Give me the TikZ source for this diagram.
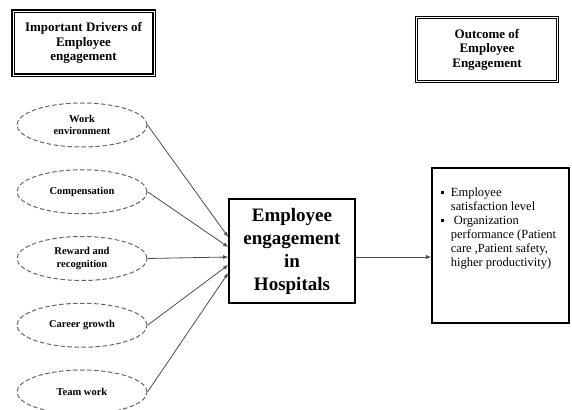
\documentclass[tikz,border=0pt]{standalone}
\usepackage{fontspec}
\setmainfont{Liberation Serif}
\usetikzlibrary{positioning, arrows.meta, shapes.geometric}

\begin{document}
\begin{tikzpicture}[
    x=1pt, y=1pt,
    title_box/.style={draw, line width=1.2pt, double, double distance=0.7pt, minimum width=141pt, minimum height=64pt, align=center, font=\fontsize{13}{14.5}\selectfont\bfseries},
    driver_node/.style={ellipse, draw=black!60, dash pattern=on 4.5pt off 2.5pt, line width=1pt, minimum width=130pt, minimum height=44pt, inner sep=0pt, align=center, font=\fontsize{10.5}{12.5}\selectfont\bfseries},
    main_box/.style={draw, line width=1.6pt, align=center},
    edge_path/.style={-{Latex[length=5pt, width=4pt]}, draw=black!70, line width=0.8pt},
    node distance=21.75pt
  ]
    \useasboundingbox (0,0) rectangle (572,409);

    % headings
    \node[title_box] (Drivers) at (83.5,366) {Important Drivers of\\Employee\\engagement};
    \node[title_box] (Outcome) at (487,359.5) {Outcome of\\Employee\\Engagement};

    % drivers column
    \node[driver_node] (Work) at (82,284) {Work\\environment};
    \node[driver_node, below=of Work] (Comp) {Compensation};
    \node[driver_node, below=of Comp] (Reward) {Reward and\\recognition};
    \node[driver_node, below=of Reward] (Career) {Career growth};
    \node[driver_node, below=of Career] (Team) {Team work};

    \node[main_box, minimum width=126pt, minimum height=104pt, font=\fontsize{19}{23}\selectfont\bfseries] (Hub) at (292,158) {Employee\\engagement\\in\\Hospitals};

    \node[main_box, minimum width=137pt, minimum height=155pt] (Result) at (500.5,163.5) {};
    \node[anchor=north west, inner sep=0pt, font=\fontsize{12.5}{14}\selectfont] (Effects) at ([xshift=9.5pt, yshift=-19pt]Result.north west) {%
      \begin{tabular}{@{}c@{\hspace{7pt}}l@{}}
        \rule[2.5pt]{3pt}{3pt} & Employee\\
                               & satisfaction level\\
        \rule[2.5pt]{3pt}{3pt} & \hspace{3pt}Organization\\
                               & performance (Patient\\
                               & care ,Patient safety,\\
                               & higher productivity)
      \end{tabular}};

    \draw[edge_path] (Work.east) to ([yshift=14pt]Hub.west);
    \draw[edge_path] (Comp.east) to ([yshift=4pt]Hub.west);
    \draw[edge_path] (Reward.east) to ([yshift=-6pt]Hub.west);
    \draw[edge_path] (Career.east) to ([yshift=-14pt]Hub.west);
    \draw[edge_path] (Team.east) to ([yshift=-22pt]Hub.west);

    \draw[edge_path] ([yshift=-6pt]Hub.east) to ([yshift=-6pt]Hub.east -| Result.west);
  \end{tikzpicture}
\end{document}
